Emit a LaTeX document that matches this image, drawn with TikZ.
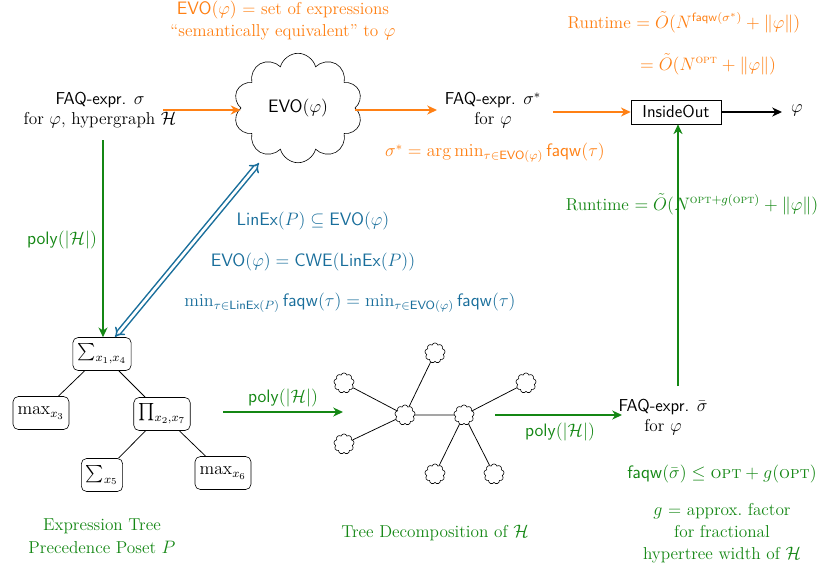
\documentclass[tikz,border=0pt]{standalone}
\usepackage{amsmath,amssymb}
\usetikzlibrary{shapes.symbols,arrows.meta}
\definecolor{myorange}{RGB}{255,128,20}
\definecolor{mygreen}{RGB}{20,135,20}
\definecolor{myblue}{RGB}{25,110,155}
\newcommand{\sfm}[1]{\mathsf{#1}}
\begin{document}
\begin{tikzpicture}[x=0.667pt,y=-0.667pt,
  font=\fontsize{11.5}{13}\selectfont,
  txt/.style={align=center,inner sep=1pt},
  otxt/.style={txt,text=myorange},
  gtxt/.style={txt,text=mygreen},
  btxt/.style={txt,text=myblue},
  tnode/.style={draw,rounded corners=3.5pt,inner sep=3pt,minimum height=22pt},
  tdc/.style={cloud,cloud puffs=9,draw,minimum width=13.5pt,minimum height=13.5pt,inner sep=0pt,aspect=1},
  oarr/.style={draw=myorange,line width=1.2pt,-{Stealth[length=6.5pt,width=6pt,inset=2pt]}},
  garr/.style={draw=mygreen,line width=1pt,-{Stealth[length=6.5pt,width=6pt,inset=2pt]}},
  tedge/.style={draw,line width=0.5pt}]
\useasboundingbox (0,0) rectangle (833,575);

% top orange text
\node[otxt] (evodef1) at (283,10) {$\sfm{EVO}(\varphi)$ = set of expressions};
\node[otxt] (evodef2) at (283,32) {``semantically equivalent'' to $\varphi$};

% top row
\node[txt] (faqs) at (100,110) {\textsf{FAQ-expr.} $\sigma$\\ for $\varphi$, hypergraph $\mathcal{H}$};
\node[cloud,cloud puffs=10,draw,minimum width=86pt,minimum height=73pt,aspect=1.2] (evo) at (298,108) {$\sfm{EVO}(\varphi)$};
\node[txt] (faqstar) at (493,110) {\textsf{FAQ-expr.} $\sigma^*$\\ for $\varphi$};
\node[draw,inner sep=3pt,minimum width=60pt,minimum height=16pt] (io) at (676,112) {\textsf{InsideOut}};
\node[txt] (phi) at (797,110) {$\varphi$};

\coordinate (faqsE) at (163,110);
\draw[oarr] (faqsE) -- (evo.west |- faqsE);
\coordinate (faqstarW) at (437,110);
\draw[oarr] (evo.east |- faqstarW) -- (faqstarW);
\coordinate (faqstarE) at (553,112);
\draw[oarr] (faqstarE) -- (io.west);
\coordinate (phiW) at (782,112);
\draw[line width=1pt,-{Stealth[length=6.5pt,width=6pt,inset=2pt]}] (io.east) -- (phiW);

% runtime orange
\node[otxt] (rt1) at (684,22) {Runtime $= \tilde{O}(N^{\sfm{faqw}(\sigma^*)} + \|\varphi\|)$};
\node[otxt] (rt2) at (708,64) {$= \tilde{O}(N^{\textsc{opt}} + \|\varphi\|)$};
\node[otxt] (argmin) at (495,153) {$\sigma^* = \arg\min_{\tau\in\sfm{EVO}(\varphi)} \sfm{faqw}(\tau)$};

% green runtime
\node[gtxt] (rt3) at (692,204) {Runtime $= \tilde{O}(N^{\textsc{opt}+g(\textsc{opt})} + \|\varphi\|)$};

% expression tree
\node[tnode] (s14) at (102,354) {$\sum_{x_1,x_4}$};
\node[tnode] (m3) at (41,413) {$\max_{x_3}$};
\node[tnode] (p27) at (162,414) {$\prod_{x_2,x_7}$};
\node[tnode] (s5) at (102,475) {$\sum_{x_5}$};
\node[tnode] (m6) at (223,473) {$\max_{x_6}$};
\draw[tedge] (s14) -- (m3);
\draw[tedge] (s14) -- (p27);
\draw[tedge] (p27) -- (s5);
\draw[tedge] (p27) -- (m6);
\node[gtxt,font=\fontsize{11.5}{15.3}\selectfont] (etlabel) at (102,536) {Expression Tree\\ Precedence Poset $P$};

% green arrow down
\coordinate (faqsS) at (103,140);
\draw[garr] (faqsS) -- (s14.north -| faqsS);
\node[gtxt] (poly1) at (62,240) {$\sfm{poly}(|\mathcal{H}|)$};

% blue double arrow
\coordinate (bA) at (115,337);
\coordinate (bB) at (259,163);
\draw[draw=myblue,line width=1pt,double=white,double distance=1.8pt,{Implies[]}-{Implies[]}] (bA) -- (bB);
\node[btxt] (lin1) at (313,221) {$\sfm{LinEx}(P) \subseteq \sfm{EVO}(\varphi)$};
\node[btxt] (lin2) at (313,262) {$\sfm{EVO}(\varphi) = \sfm{CWE}(\sfm{LinEx}(P))$};
\node[btxt] (lin3) at (350,303) {$\min_{\tau\in\sfm{LinEx}(P)} \sfm{faqw}(\tau) = \min_{\tau\in\sfm{EVO}(\varphi)} \sfm{faqw}(\tau)$};

% arrow to tree decomposition
\coordinate (ta) at (223,412);
\coordinate (tb) at (343,412);
\draw[garr] (ta) -- (tb);
\node[gtxt] (poly2) at (283,398) {$\sfm{poly}(|\mathcal{H}|)$};

% tree decomposition
\node[tdc] (c1) at (405,415) {};
\node[tdc] (c2) at (464,415) {};
\node[tdc] (c3) at (435,353) {};
\node[tdc] (c4) at (344,383) {};
\node[tdc] (c5) at (344,444) {};
\node[tdc] (c6) at (526,383) {};
\node[tdc] (c7) at (435,474) {};
\node[tdc] (c8) at (494,474) {};
\draw[tedge] (c1) -- (c2);
\draw[tedge] (c1) -- (c3);
\draw[tedge] (c1) -- (c4);
\draw[tedge] (c1) -- (c5);
\draw[tedge] (c2) -- (c6);
\draw[tedge] (c2) -- (c7);
\draw[tedge] (c2) -- (c8);
\node[gtxt] (tdlabel) at (435,533) {Tree Decomposition of $\mathcal{H}$};

% arrow to faqbar
\node[txt] (faqbar) at (663,417) {\textsf{FAQ-expr.} $\bar{\sigma}$\\ for $\varphi$};
\coordinate (fa) at (495,415);
\coordinate (fb) at (622,415);
\draw[garr] (fa) -- (fb);
\node[gtxt] (poly3) at (560,432) {$\sfm{poly}(|\mathcal{H}|)$};
\coordinate (fu) at (678,386);
\draw[garr] (fu) -- (io.south -| fu);

% bottom right green
\node[gtxt] (faqwbar) at (722,474) {$\sfm{faqw}(\bar{\sigma}) \le \textsc{opt} + g(\textsc{opt})$};
\node[gtxt,font=\fontsize{11.5}{14.7}\selectfont] (gdef) at (722,533) {$g$ = approx.\ factor\\ for fractional\\ hypertree width of $\mathcal{H}$};
\end{tikzpicture}
\end{document}
